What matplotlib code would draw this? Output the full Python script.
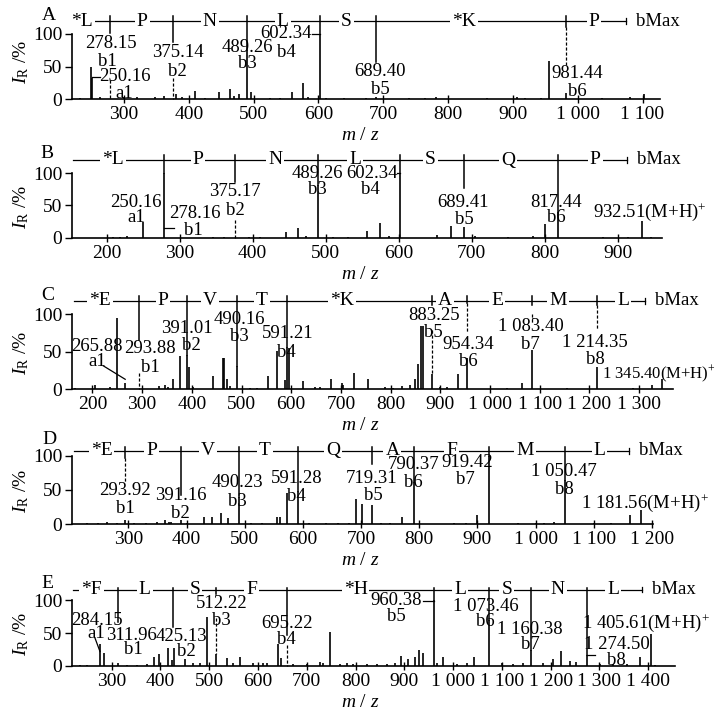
import matplotlib
matplotlib.use('Agg')
import matplotlib.pyplot as plt

plt.rcParams['font.family'] = ['Liberation Serif', 'DejaVu Serif']
plt.rcParams['mathtext.fontset'] = 'custom'
plt.rcParams['mathtext.rm'] = 'Liberation Serif'
plt.rcParams['mathtext.it'] = 'Liberation Serif:italic'

## (m/z, relative intensity %)

# ---- A ----
A_peaks = [(232, 2), (249, 50), (251, 33), (263, 3), (300, 3), (320, 3), (348, 3), (361, 4),
           (381, 7), (390, 3), (410, 12), (425, 2), (446, 11), (464, 15), (470, 4), (477, 7),
           (489.26, 75), (496, 11), (525, 2), (540, 2), (559, 11), (576, 24), (584, 3),
           (602.34, 100), (612, 2), (640, 2), (673, 2), (689, 3), (740, 2), (764, 2), (782, 3),
           (860, 2), (906, 3), (919, 2), (944, 2), (956, 58), (982, 10), (1037, 2), (1080, 3),
           (1102, 7)]
A_dash = [(278.15, 30, 0), (375.14, 32, 0), (981.44, 111, 52)]
A_ticks = [(278.15, 127, 102), (375.14, 127, 88), (489.26, 127, 75), (602.34, 127, 100),
           (689.40, 127, 57), (981.44, 127, 111)]
A_seq = ['*L', 'P', 'N', 'L', 'S', '*K', 'P']
A_seq_mz = [235, 328, 432, 545, 643, 825, 1025]
A_seq_span = (222, 1075)
A_labels = [("278.15", 280, 86), ("b1", 274, 57), ("250.16", 302, 34), ("a1", 300, 9),
            ("375.14", 383, 71), ("b2", 383, 43), ("489.26", 490, 80), ("b3", 490, 54),
            ("602.34", 550, 101), ("b4", 550, 72), ("689.40", 695, 42), ("b5", 695, 15),
            ("981.44", 999, 40), ("b6", 999, 11)]
A_mh = None
A_leaders = [(251, 34, 263, 34), (590, 100, 602.34, 100)]

# ---- B ----
B_peaks = [(209, 2), (218, 2), (228, 3), (250, 25), (278, 100), (345, 2), (360, 2), (395, 2),
           (410, 2), (446, 9), (462, 15), (473, 3), (489.26, 82), (510, 2), (530, 2), (557, 10),
           (574, 23), (586, 3), (602.34, 100), (653, 5), (671, 18), (689.41, 17), (705, 3),
           (750, 2), (784, 3), (800, 21), (817.44, 40), (880, 2), (914, 2), (932.51, 26), (945, 2)]
B_dash = [(375.17, 28, 0)]
B_ticks = [(278.16, 128, 100), (375.17, 128, 86), (489.26, 128, 82), (602.34, 128, 100),
           (689.41, 128, 77), (817.44, 128, 40)]
B_seq = ['*L', 'P', 'N', 'L', 'S', 'Q', 'P']
B_seq_mz = [209, 325, 431, 540, 643, 750, 869]
B_seq_span = (154, 913)
B_labels = [("250.16", 240, 54), ("a1", 240, 32), ("278.16", 321, 37), ("b1", 319, 11),
            ("375.17", 376, 71), ("b2", 376, 43), ("489.26", 488, 100), ("b3", 488, 74),
            ("602.34", 563, 100), ("b4", 561, 74), ("689.41", 688, 54), ("b5", 690, 28),
            ("817.44", 816, 55), ("b6", 816, 31)]
B_mh = ("932.51", 866, 40)
B_leaders = [(278.16, 15, 292, 15), (597, 100, 602.34, 100)]

# ---- C ----
C_peaks = [(165, 2), (205, 6), (235, 3), (249, 95), (266, 8), (335, 4), (346, 5), (353, 3),
           (363, 14), (376, 44), (391.01, 46), (395, 29), (403, 3), (443, 17), (462, 42),
           (465, 41), (470, 13), (477, 4), (490.16, 31), (517, 2), (531, 2), (554, 17),
           (572, 51), (588, 12), (591.21, 56), (595, 55), (624, 11), (648, 3), (658, 3),
           (681, 14), (702, 8), (705, 5), (726, 22), (755, 13), (789, 3), (805, 2), (822, 4),
           (839, 5), (849, 14), (856, 34), (862, 84), (866, 84), (883.25, 20), (899, 3),
           (914, 3), (936, 20), (954.34, 41), (1034, 2), (1064, 8), (1083.40, 52), (1154, 2),
           (1214.35, 29), (1288, 2), (1325, 5), (1345.40, 14)]
C_dash = [(293.88, 21, 0), (883.25, 79, 20), (954.34, 115, 75), (1083.40, 101, 88),
          (1214.35, 112, 79)]
C_ticks = [(293.88, 124, 66), (391.01, 124, 46), (490.16, 124, 31), (591.21, 124, 56),
           (883.25, 124, 112), (954.34, 124, 115), (1083.40, 124, 112), (1214.35, 124, 112)]
C_seq = ['*E', 'P', 'V', 'T', '*K', 'A', 'E', 'M', 'L']
C_seq_mz = [215, 342, 437, 541, 702, 909, 1014, 1137, 1268]
C_seq_span = (163, 1312)
C_labels = [("265.88", 209, 57), ("a1", 210, 37), ("293.88", 316, 54), ("b1", 316, 29),
            ("391.01", 390, 81), ("b2", 400, 58), ("490.16", 496, 93), ("b3", 496, 70),
            ("591.21", 592, 74), ("b4", 591, 49), ("883.25", 887, 99), ("b5", 885, 75),
            ("954.34", 956, 60), ("b6", 956, 37), ("1 083.40", 1082, 83), ("b7", 1082, 59),
            ("1 214.35", 1211, 62), ("b8", 1211, 39)]
C_mh = ("1 345.40", 1226, 19)
C_leaders = [(222, 31, 266, 13)]

# ---- D ----
D_peaks = [(229, 2), (248, 2), (264, 4), (281, 2), (294, 6), (310, 2), (330, 2), (350, 3),
           (363, 6), (369, 4), (373, 4), (391, 6), (400, 2), (430, 11), (444, 10), (460, 16),
           (472, 9), (490.23, 40), (510, 2), (530, 2), (556, 11), (561, 11), (572, 45),
           (591.28, 48), (610, 2), (640, 2), (660, 2), (680, 2), (691, 37), (701, 30),
           (719.31, 28), (735, 2), (750, 2), (771, 11), (790.37, 62), (860, 2), (880, 2),
           (900, 13), (919.42, 100), (970, 2), (1000, 2), (1015, 2), (1031, 3), (1050.47, 65),
           (1100, 2), (1130, 2), (1162, 13), (1181.56, 21)]
D_dash = [(293.92, 96, 62)]
D_ticks = [(293.92, 113, 96), (391.16, 113, 43), (490.23, 113, 40), (591.28, 113, 48),
           (719.31, 113, 88), (790.37, 113, 62), (919.42, 113, 100), (1050.47, 113, 65)]
D_seq = ['*E', 'P', 'V', 'T', 'Q', 'A', 'F', 'M', 'L']
D_seq_mz = [254, 340, 437, 535, 652, 754, 856, 982, 1110]
D_seq_span = (206, 1161)
D_labels = [("293.92", 294, 49), ("b1", 294, 23), ("391.16", 390, 42), ("b2", 390, 16),
            ("490.23", 487, 61), ("b3", 488, 33), ("591.28", 589, 67), ("b4", 589, 40),
            ("719.31", 718, 67), ("b5", 721, 42), ("790.37", 791, 87), ("b6", 790, 61),
            ("919.42", 882, 90), ("b7", 879, 65), ("1 050.47", 1049, 77), ("b8", 1049, 50)]
D_mh = ("1 181.56", 1079, 31)
D_leaders = []

# ---- E ----
E_peaks = [(235, 2), (250, 2), (276, 34), (285, 20), (313, 4), (331, 2), (351, 2), (372, 3),
           (387, 13), (396, 19), (415, 28), (423, 9), (428, 27), (450, 10), (467, 4), (481, 5),
           (496, 74), (514, 19), (537, 12), (549, 4), (564, 13), (590, 4), (611, 5), (618, 4),
           (640, 34), (647, 12), (672, 3), (700, 3), (727, 6), (734, 5), (747, 52), (768, 3),
           (782, 5), (795, 3), (823, 3), (843, 3), (864, 3), (881, 4), (894, 15), (908, 10),
           (922, 13), (931, 25), (939, 20), (960.38, 100), (968, 4), (980, 13), (1007, 3),
           (1028, 4), (1043, 13), (1073.46, 70), (1100, 4), (1123, 3), (1144, 4),
           (1160.38, 25), (1185, 4), (1204, 10), (1222, 23), (1239, 7), (1253, 6),
           (1274.50, 17), (1301, 3), (1328, 3), (1356, 3), (1383, 13), (1405.61, 48), (1414, 2)]
E_dash = [(514, 73, 19), (660, 32, 0)]
E_ticks = [(311.96, 119, 67), (425.13, 119, 59), (514, 119, 110), (660, 119, 47),
           (960.38, 119, 100), (1073.46, 119, 70), (1160.38, 119, 25), (1274.50, 119, 17)]
E_seq = ['*F', 'L', 'S', 'F', '*H', 'L', 'S', 'N', 'L']
E_seq_mz = [259, 368, 471, 587, 800, 1014, 1110, 1215, 1328]
E_seq_span = (221, 1388)
E_labels = [("284.15", 269, 70), ("a1", 269, 50), ("311.96", 341, 47), ("b1", 344, 25),
            ("425.13", 443, 45), ("b2", 454, 22), ("512.22", 525, 95), ("b3", 525, 70),
            ("695.22", 659, 65), ("b4", 659, 40), ("960.38", 884, 99), ("b5", 884, 75),
            ("1 073.46", 1067, 91), ("b6", 1067, 67), ("1 160.38", 1157, 55), ("b7", 1158, 32),
            ("1 274.50", 1335, 32), ("b8", 1335, 9)]
E_mh = ("1 405.61", 1265, 65)
E_leaders = [(266, 42, 276, 22), (939, 99, 960.38, 99), (1274.5, 17, 1290, 17)]

panel_names = ['A', 'B', 'C', 'D', 'E']
seq_levels = [120, 120, 118, 107, 116]
x_limits = [(219.8, 1127), (152.5, 960.5), (159, 1368), (203, 1202), (218.6, 1455)]
x_ticks = [range(300, 1101, 100), range(200, 901, 100), range(200, 1301, 100),
           range(300, 1201, 100), range(300, 1401, 100)]

data = {
    'A': (A_peaks, A_dash, A_ticks, A_seq, A_seq_mz, A_seq_span, A_labels, A_mh, A_leaders),
    'B': (B_peaks, B_dash, B_ticks, B_seq, B_seq_mz, B_seq_span, B_labels, B_mh, B_leaders),
    'C': (C_peaks, C_dash, C_ticks, C_seq, C_seq_mz, C_seq_span, C_labels, C_mh, C_leaders),
    'D': (D_peaks, D_dash, D_ticks, D_seq, D_seq_mz, D_seq_span, D_labels, D_mh, D_leaders),
    'E': (E_peaks, E_dash, E_ticks, E_seq, E_seq_mz, E_seq_span, E_labels, E_mh, E_leaders),
}

W, H = 720, 713
YTOP = 130
# frame of each panel in pixels: right edge, baseline, pixels per 100 %
frames = [(660, 99, 65), (662, 238, 65), (673, 389, 74.7), (653, 524.3, 68.6), (675, 666, 65.7)]
letter_pos = [(49, 16), (47, 153), (48, 296), (49, 440), (47, 583)]

fig = plt.figure(figsize=(W / 100, H / 100), dpi=100)

FS = 14
LFS = 13.5
for i, name in enumerate(panel_names):
    peaks, dash, ticks, seq, seq_mz, span, labels, mh, leaders = data[name]
    right, base, sy = frames[i]
    left = 72
    hpx = YTOP * sy / 100.0
    wpx = right - left
    ax = fig.add_axes([left / W, 1 - base / H, wpx / W, hpx / H])
    ax.set_xlim(*x_limits[i])
    ax.set_ylim(0, YTOP)

    ax.vlines([p[0] for p in peaks], 0, [p[1] for p in peaks], color='k', lw=1.2)
    for mz, y1, y2 in ticks:
        ax.plot([mz, mz], [y1, y2], color='k', lw=1.1, clip_on=False)
    for mz, y1, y2 in dash:
        ax.plot([mz, mz], [y1, y2], color='k', lw=0.9, ls=(0, (2.5, 1.5)), clip_on=False)
    for x1, y1, x2, y2 in leaders:
        ax.plot([x1, x2], [y1, y2], color='k', lw=0.9, clip_on=False)

    # peptide sequence ladder
    sl = seq_levels[i]
    ax.plot([span[0], span[1]], [sl, sl], color='k', lw=0.9, clip_on=False)
    ax.plot([span[1], span[1]], [sl - 4, sl + 4], color='k', lw=0.9, clip_on=False)
    for r, mz in zip(seq, seq_mz):
        ax.text(mz, sl, r, ha='center', va='center', fontsize=FS, zorder=5,
                bbox=dict(facecolor='white', edgecolor='none', boxstyle='square,pad=0.1'))
    ax.annotate('bMax', (span[1], sl), xytext=(7, 0), textcoords='offset points',
                ha='left', va='center', fontsize=LFS)

    for t, mz, y in labels:
        ax.text(mz, y, t, ha='center', va='center', fontsize=LFS, zorder=6)
    if mh is not None:
        mfs = 12 if name == 'C' else LFS
        ax.text(mh[1], mh[2], mh[0] + '(M+H)$^{+}$', ha='left', va='center', fontsize=mfs,
                zorder=6)

    ax.spines['top'].set_visible(False)
    ax.spines['right'].set_visible(False)
    ax.spines['left'].set_bounds(0, 100)
    ax.spines['left'].set_linewidth(1.2)
    ax.spines['bottom'].set_linewidth(1.2)
    ax.set_yticks([0, 50, 100])
    xt = list(x_ticks[i])
    ax.set_xticks(xt)
    ax.set_xticklabels([f"{v:,}".replace(',', ' ') for v in xt])
    ax.tick_params(axis='x', direction='inout', length=6, width=1, labelsize=FS, pad=2)
    ax.tick_params(axis='y', direction='out', length=5, width=1, labelsize=FS, pad=2)

    ax.set_ylabel(r'$I_{\mathrm{R}}$ /%', fontsize=FS)
    yc = 57 if name == 'A' else 48
    ax.yaxis.set_label_coords((31 - left) / wpx, yc / YTOP)
    ax.set_xlabel(r'$m$ / $z$', fontsize=FS)
    ax.xaxis.set_label_coords((360 - left) / wpx, -28 / hpx)

    fig.text(letter_pos[i][0] / W, 1 - letter_pos[i][1] / H, name, ha='center', va='center',
             fontsize=FS)

fig.savefig('out.png', dpi=100)
